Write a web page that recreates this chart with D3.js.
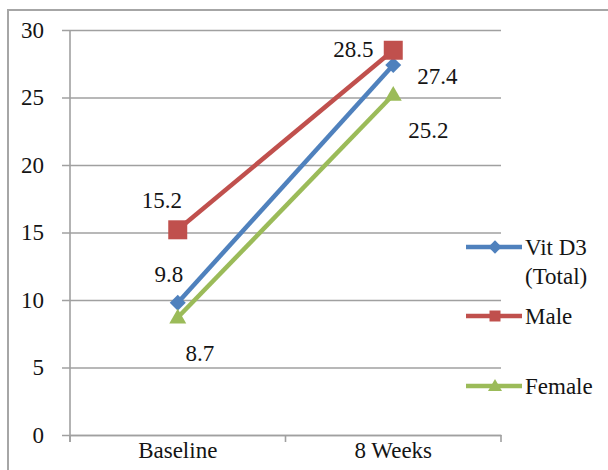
<!DOCTYPE html>
<html>
<head>
<meta charset="utf-8">
<script src="https://cdn.jsdelivr.net/npm/d3@7"></script>
<style>
  html, body { margin: 0; padding: 0; background: #fff; }
</style>
</head>
<body>
<svg id="chart" width="608" height="470"></svg>
<script>
// Vitamin D3 levels at baseline and after 8 weeks
const categories = ["Baseline", "8 Weeks"];
const seriesNames = ["Vit D3 (Total)", "Male", "Female"];
const vitD3Total = [9.8, 27.4];
const male = [15.2, 28.5];
const female = [8.7, 25.2];
const yTicks = [0, 5, 10, 15, 20, 25, 30];

const FONT = "'Liberation Serif'";
const FONT_SIZE = "23px";
const TEXT_COLOR = "#141414";
const GRID = "#a0a0a0";

const series = [
  { name: seriesNames[0], values: vitD3Total, color: "#4F81BD", marker: "diamond", legendLines: ["Vit D3", "(Total)"] },
  { name: seriesNames[1], values: male, color: "#C0504D", marker: "square", legendLines: ["Male"] },
  { name: seriesNames[2], values: female, color: "#9BBB59", marker: "triangle", legendLines: ["Female"] }
];

// label offsets relative to each point [dx, dy], per series and category
const labelOffsets = [
  [[-9, -29], [44, 11]],
  [[-16, -30], [-40, -1]],
  [[22, 35], [35, 35]]
];

const svg = d3.select("#chart");
const W = 608, H = 470;
const plot = { left: 70, right: 501, top: 30, bottom: 435 };

function styleText(sel) {
  return sel.style("font-family", FONT).style("font-size", FONT_SIZE).style("fill", TEXT_COLOR);
}

// outer chart frame
svg.append("rect")
  .attr("x", 8).attr("y", 10)
  .attr("width", W + 10).attr("height", H + 10)
  .attr("fill", "none").attr("stroke", "#a6a6a6").attr("stroke-width", 2);

const x = d3.scaleBand().domain(categories).range([plot.left, plot.right]).padding(0);
const y = d3.scaleLinear().domain([0, 30]).range([plot.bottom, plot.top]);

// horizontal gridlines, extended left as tick marks
const yAxis = d3.axisLeft(y).tickValues(yTicks).tickSize(0).tickPadding(0);
const gy = svg.append("g").attr("transform", `translate(${plot.left - 8},0)`).call(yAxis);
gy.attr("font-family", null);
gy.select(".domain").remove();
gy.selectAll(".tick line")
  .attr("x1", 0).attr("x2", plot.right - plot.left + 8)
  .attr("stroke", GRID).attr("stroke-width", 1.6);
gy.selectAll(".tick text")
  .attr("x", -18)
  .call(styleText);

// vertical axis line
svg.append("line")
  .attr("x1", plot.left).attr("x2", plot.left)
  .attr("y1", plot.top).attr("y2", plot.bottom + 7)
  .attr("stroke", GRID).attr("stroke-width", 1.6);

// category axis
const xAxis = d3.axisBottom(x).tickSize(0).tickPadding(7);
const gx = svg.append("g").attr("transform", `translate(0,${plot.bottom})`).call(xAxis);
gx.attr("font-family", null);
gx.select(".domain").attr("stroke", GRID).attr("stroke-width", 1.6);
gx.selectAll(".tick text").call(styleText);
// category boundary tick marks
const bounds = [x(categories[0]), x(categories[1]), x(categories[1]) + x.bandwidth()];
svg.selectAll(".xbound").data(bounds).enter().append("line")
  .attr("x1", d => d).attr("x2", d => d)
  .attr("y1", plot.bottom).attr("y2", plot.bottom + 7)
  .attr("stroke", GRID).attr("stroke-width", 1.6);

const cx = c => x(c) + x.bandwidth() / 2;

// marker shapes, sized by their visible width
function markerPath(type, w) {
  if (type === "diamond") return d3.symbol(d3.symbolDiamond2, w * w / 2)();
  if (type === "square") return d3.symbol(d3.symbolSquare, w * w)();
  return d3.symbol(d3.symbolTriangle, Math.sqrt(3) / 4 * w * w)();
}
const markerWidth = { diamond: 18, square: 19, triangle: 17 };
const legendMarkerWidth = { diamond: 15, square: 11, triangle: 14 };

const line = d3.line().x((d, i) => cx(categories[i])).y(d => y(d));

series.forEach(s => {
  const g = svg.append("g");
  g.append("path").datum(s.values)
    .attr("d", line)
    .attr("fill", "none").attr("stroke", s.color).attr("stroke-width", 4.5);
  g.selectAll("path.m").data(s.values).enter().append("path")
    .attr("class", "m")
    .attr("d", markerPath(s.marker, markerWidth[s.marker]))
    .attr("transform", (d, i) => `translate(${cx(categories[i])},${y(d) + (s.marker === "triangle" ? 1 : 0)})`)
    .attr("fill", s.color);
});

// data labels
series.forEach((s, si) => {
  svg.selectAll(null).data(s.values).enter().append("text")
    .attr("x", (d, i) => cx(categories[i]) + labelOffsets[si][i][0])
    .attr("y", (d, i) => y(d) + labelOffsets[si][i][1])
    .attr("text-anchor", "middle")
    .attr("dy", "0.35em")
    .call(styleText)
    .text(d => d.toFixed(1));
});

// legend
const legendRows = [247, 316, 386];
series.forEach((s, si) => {
  const ly = legendRows[si];
  const g = svg.append("g");
  g.append("line").attr("x1", 466).attr("x2", 522).attr("y1", ly).attr("y2", ly)
    .attr("stroke", s.color).attr("stroke-width", 4.5);
  g.append("path")
    .attr("d", markerPath(s.marker, legendMarkerWidth[s.marker]))
    .attr("transform", `translate(495,${ly + (s.marker === "triangle" ? 1 : 0)})`)
    .attr("fill", s.color);
  s.legendLines.forEach((t, k) => {
    g.append("text").attr("x", 525).attr("y", ly + 8 + k * 29)
      .call(styleText).text(t);
  });
});
</script>
</body>
</html>
